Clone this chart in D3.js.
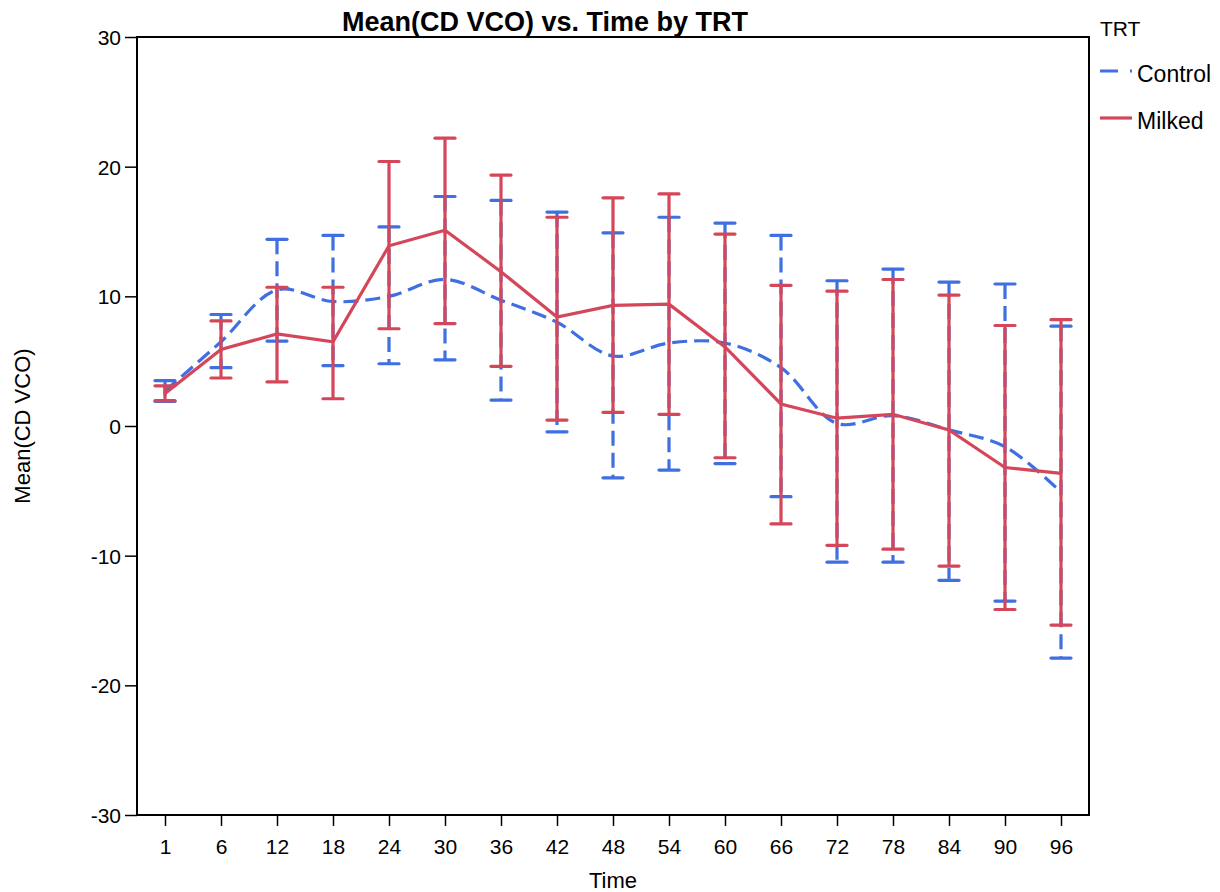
<!DOCTYPE html>
<html>
<head>
<meta charset="utf-8">
<script src="https://cdn.jsdelivr.net/npm/d3@7"></script>
<style>
  body { margin: 0; background: #fff; }
  svg { font-family: "Liberation Sans", Arial, sans-serif; }
</style>
</head>
<body>
<svg id="chart" width="1220" height="892"></svg>
<script>
const times = ['1','6','12','18','24','30','36','42','48','54','60','66','72','78','84','90','96']
const controlMean = [2.7,6.5,10.5,9.6,10.0,11.3,9.7,8.0,5.4,6.4,6.4,4.5,0.2,0.8,-0.3,-1.6,-5.1]
const controlHi   = [3.5,8.6,14.4,14.7,15.35,17.7,17.4,16.5,14.9,16.1,15.65,14.7,11.2,12.1,11.1,10.95,7.7]
const controlLo   = [1.9,4.5,6.55,4.65,4.8,5.1,2.0,-0.45,-4.0,-3.4,-2.9,-5.45,-10.5,-10.5,-11.9,-13.5,-17.9]
const milkedMean  = [2.5,5.9,7.1,6.5,13.9,15.1,11.9,8.4,9.3,9.4,6.1,1.7,0.6,0.9,-0.3,-3.2,-3.65]
const milkedHi    = [3.1,8.1,10.7,10.7,20.4,22.2,19.35,16.1,17.6,17.9,14.8,10.85,10.4,11.3,10.1,7.75,8.2]
const milkedLo    = [1.95,3.7,3.4,2.1,7.5,7.9,4.6,0.46,1.05,0.9,-2.45,-7.55,-9.2,-9.5,-10.8,-14.15,-15.35]
const yTicks = [-30,-20,-10,0,10,20,30]

const blue = '#3f6fe0', red = '#d4475a'
const series = [
  {name:'Control', mean:controlMean, hi:controlHi, lo:controlLo, color:blue, dash:'15,7', curve:d3.curveCatmullRom},
  {name:'Milked', mean:milkedMean, hi:milkedHi, lo:milkedLo, color:red, dash:null, curve:d3.curveLinear}
]

const svg = d3.select('#chart')
const m = {left:137, top:37, right:1089, bottom:815}
const x = d3.scalePoint().domain(times).range([m.left,m.right]).padding(0.5)
const y = d3.scaleLinear().domain([-30,30]).range([m.bottom,m.top])

// axes
const gx = svg.append('g').attr('transform',`translate(0,${m.bottom})`)
  .call(d3.axisBottom(x).tickSizeOuter(0).tickSize(11).tickPadding(13))
const gy = svg.append('g').attr('transform',`translate(${m.left},0)`)
  .call(d3.axisLeft(y).tickValues(yTicks).tickFormat(d=>String(d)).tickSizeOuter(0).tickSize(12).tickPadding(4))
;[gx,gy].forEach(g=>{
  g.select('.domain').remove()
  g.selectAll('line').attr('stroke','#000').attr('stroke-width',1.5)
  g.selectAll('text').attr('font-size',21).attr('fill','#000').attr('font-family','"Liberation Sans", Arial, sans-serif')
})
gy.selectAll('text').attr('dy','0.35em')

svg.append('rect').attr('x',m.left).attr('y',m.top)
  .attr('width',m.right-m.left).attr('height',m.bottom-m.top)
  .attr('fill','none').attr('stroke','#000').attr('stroke-width',2)

// series
series.forEach(s=>{
  const g = svg.append('g')
  const pts = times.map((t,i)=>({t,mean:s.mean[i],hi:s.hi[i],lo:s.lo[i]}))
  g.append('path').datum(pts)
    .attr('d',d3.line().x(d=>x(d.t)).y(d=>y(d.mean)).curve(s.curve))
    .attr('fill','none').attr('stroke',s.color).attr('stroke-width',3.2)
    .attr('stroke-dasharray',s.dash)
  const eb = g.selectAll('g.eb').data(pts).join('g').attr('class','eb')
  eb.append('line').attr('x1',d=>x(d.t)).attr('x2',d=>x(d.t))
    .attr('y1',d=>y(d.hi)).attr('y2',d=>y(d.lo))
    .attr('stroke',s.color).attr('stroke-width',3.2).attr('stroke-dasharray',s.dash)
  ;['hi','lo'].forEach(k=>{
    eb.append('line').attr('x1',d=>x(d.t)-10).attr('x2',d=>x(d.t)+10)
      .attr('y1',d=>y(d[k])).attr('y2',d=>y(d[k]))
      .attr('stroke',s.color).attr('stroke-width',3.2).attr('stroke-linecap','round')
  })
})

// title and labels
svg.append('text').attr('x',545).attr('y',31).attr('text-anchor','middle')
  .attr('font-size',27).attr('font-weight','bold').text('Mean(CD VCO) vs. Time by TRT')
svg.append('text').attr('x',(m.left+m.right)/2).attr('y',888).attr('text-anchor','middle')
  .attr('font-size',22).text('Time')
svg.append('text').attr('transform',`translate(30,${(m.top+m.bottom)/2}) rotate(-90)`)
  .attr('text-anchor','middle').attr('font-size',22).text('Mean(CD VCO)')

// legend
const lg = svg.append('g')
lg.append('text').attr('x',1100).attr('y',36).attr('font-size',21).text('TRT')
series.forEach((s,i)=>{
  const yy = 71 + i*47
  lg.append('line').attr('x1',1100).attr('x2',1132).attr('y1',yy).attr('y2',yy)
    .attr('stroke',s.color).attr('stroke-width',3.2).attr('stroke-dasharray',s.dash ? '18,12,2,5' : null)
  lg.append('text').attr('x',1137).attr('y',yy+11).attr('font-size',23).text(s.name)
})
</script>
</body>
</html>
